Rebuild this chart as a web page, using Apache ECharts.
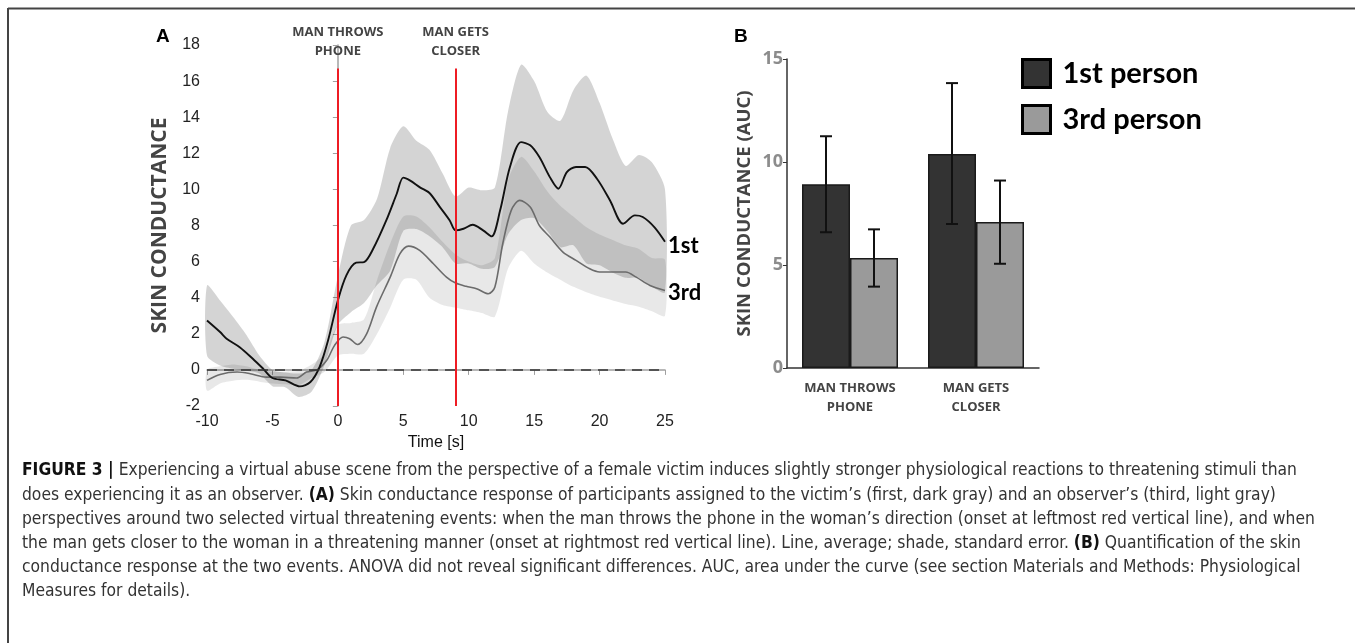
<!DOCTYPE html>
<html>
<head>
<meta charset="utf-8">
<title>Figure 3</title>
<script src="https://cdn.jsdelivr.net/npm/echarts@6/dist/echarts.min.js"></script>
<style>
  html, body { margin: 0; padding: 0; background: #fff; }
  #main { width: 1355px; height: 643px; }
</style>
</head>
<body>
<div id="main"></div>
<script>
// A: mean traces, time [s] / skin conductance
var t1st = [-10, -9, -8.5, -7.5, -6.5, -5.7, -5, -4, -2.9, -2.1, -1.4, -0.75, 0, 0.65, 1.4, 2, 2.7, 3.7, 4.5, 5, 5.5, 6.3, 7, 7.8, 8.55, 9, 9.6, 10.3, 11.1, 11.75, 12.4, 13.15, 14, 14.7, 15.4, 16.2, 16.85, 17.5, 18.2, 18.9, 19.8, 20.8, 21.8, 22.7, 23.3, 24.2, 25];
var v1st = [2.74, 2.1, 1.73, 1.26, 0.62, 0.06, -0.45, -0.58, -0.91, -0.67, 0.16, 1.63, 3.85, 5.24, 5.94, 5.97, 6.71, 8.28, 9.76, 10.65, 10.5, 10.1, 9.8, 9.02, 8.28, 7.73, 7.82, 8.04, 7.73, 7.4, 8.84, 11.24, 12.62, 12.44, 11.79, 10.68, 10.04, 10.96, 11.24, 11.24, 10.59, 9.39, 8.1, 8.56, 8.47, 7.9, 7.1];
var t3rd = [-10, -9, -7.7, -6.7, -5.45, -4.4, -3.15, -2.4, -1.6, -0.85, -0.25, 0.4, 0.9, 1.5, 2.2, 2.95, 4, 4.75, 5.4, 6.25, 7.3, 8.3, 9, 9.8, 10.6, 11.5, 12, 12.6, 13.25, 13.9, 14.7, 15.4, 16.2, 17.2, 18.2, 19.25, 20, 21.5, 22, 22.8, 23.85, 25];
var v3rd = [-0.58, -0.25, -0.12, -0.21, -0.4, -0.4, -0.45, -0.12, 0, 0.53, 1.36, 1.82, 1.73, 1.41, 2.0, 3.48, 5.14, 6.44, 6.86, 6.62, 5.88, 5.14, 4.81, 4.63, 4.5, 4.22, 4.59, 6.99, 8.84, 9.39, 9.02, 8.0, 7.36, 6.53, 6.07, 5.6, 5.42, 5.42, 5.42, 5.14, 4.68, 4.4];

// A: standard error shades, read once per second
var bandT = [-10, -9, -8, -7, -6, -5, -4, -3, -2, -1, 0, 1, 2, 3, 4, 5, 6, 7, 8, 9, 10, 11, 12, 13, 14, 15, 16, 17, 18, 19, 20, 21, 22, 23, 24, 25];
var up1st = [4.68, 3.85, 2.93, 1.95, 0.8, 0.0, -0.15, -0.2, 0.0, 1.6, 5.2, 8.0, 8.3, 9.5, 12.3, 13.5, 12.7, 12.2, 10.9, 9.6, 10.1, 9.95, 10.1, 14.3, 16.9, 16.0, 14.3, 13.8, 15.5, 16.3, 14.8, 12.8, 11.3, 11.9, 11.5, 10.0];
var lo1st = [0.8, 0.25, 0.07, -0.05, -0.2, -0.9, -0.97, -1.5, -1.2, 0.3, 2.5, 3.2, 3.7, 4.7, 5.5, 7.7, 7.8, 7.4, 6.8, 5.9, 5.9, 5.6, 5.7, 7.5, 8.3, 8.4, 7.7, 6.8, 6.9, 5.9, 5.8, 5.4, 5.1, 5.1, 4.6, 4.3];
var up3rd = [0.0, 0.2, 0.3, 0.2, 0.0, -0.1, -0.1, -0.05, 0.3, 0.9, 2.5, 2.6, 2.8, 5.0, 7.0, 8.5, 8.5, 7.9, 7.1, 6.4, 6.0, 5.8, 6.2, 10.5, 11.8, 11.0, 9.9, 9.1, 8.5, 7.9, 7.5, 7.2, 6.9, 6.7, 6.2, 6.1];
var lo3rd = [-1.15, -0.75, -0.6, -0.55, -0.65, -0.75, -0.8, -0.85, -0.45, -0.1, 0.8, 0.9, 0.9, 2.0, 3.45, 5.0, 5.0, 4.0, 3.6, 3.45, 3.3, 3.15, 2.95, 5.6, 6.6, 5.9, 5.4, 5.0, 4.6, 4.3, 4.05, 3.85, 3.65, 3.5, 3.25, 3.0];

// event onsets (red lines)
var eventT = [0, 9];
var eventNames = ['MAN THROWS\nPHONE', 'MAN GETS\nCLOSER'];
var eventTop = 16.7;

// B: AUC per event
var categories = ['MAN THROWS\nPHONE', 'MAN GETS\nCLOSER'];
var auc1st = [8.92, 10.39];
var auc3rd = [5.34, 7.09];
var err1stLo = [6.59, 6.99];
var err1stHi = [11.25, 13.83];
var err3rdLo = [3.95, 5.06];
var err3rdHi = [6.73, 9.1];

var BAR_W = 48;
var SANS = "'Open Sans', sans-serif";
var ARIAL = "'Liberation Sans', Arial, sans-serif";
var CAPT = "'Liberation Sans Narrow', 'DejaVu Sans Condensed', 'Liberation Sans', sans-serif";

function pairs(xs, ys) {
  return xs.map(function (x, i) { return [x, ys[i]]; });
}

function bandRender(upper, lower, fill) {
  return function (params, api) {
    var pts = [];
    for (var i = 0; i < bandT.length; i++) pts.push(api.coord([bandT[i], upper[i]]));
    for (var j = bandT.length - 1; j >= 0; j--) pts.push(api.coord([bandT[j], lower[j]]));
    return { type: 'polygon', shape: { points: pts, smooth: 0.25 }, style: { fill: fill } };
  };
}

var errData = [];
for (var k = 0; k < categories.length; k++) {
  errData.push([k, err1stLo[k], err1stHi[k], 0]);
  errData.push([k, err3rdLo[k], err3rdHi[k], 1]);
}

var markData = [[
  { coord: [-10, 0], lineStyle: { color: '#333', width: 1.6, type: [10, 7] }, label: { show: false } },
  { coord: [25, 0] }
]];
eventT.forEach(function (t, i) {
  markData.push([
    { coord: [t, -2], lineStyle: { color: '#ee1c24', width: 2, type: 'solid' },
      label: { show: true, position: 'end', distance: 8, formatter: eventNames[i],
        fontFamily: SANS, fontWeight: 'bold', fontSize: 13, lineHeight: 19, color: '#444' } },
    { coord: [t, eventTop] }
  ]);
});

// caption lines, kept as they wrap in the figure
var captionLines = [
  '{b|FIGURE 3 |} Experiencing a virtual abuse scene from the perspective of a female victim induces slightly stronger physiological reactions to threatening stimuli than',
  'does experiencing it as an observer. {b|(A)} Skin conductance response of participants assigned to the victim\u2019s (first, dark gray) and an observer\u2019s (third, light gray)',
  'perspectives around two selected virtual threatening events: when the man throws the phone in the woman\u2019s direction (onset at leftmost red vertical line), and when',
  'the man gets closer to the woman in a threatening manner (onset at rightmost red vertical line). Line, average; shade, standard error. {b|(B)} Quantification of the skin',
  'conductance response at the two events. ANOVA did not reveal significant differences. AUC, area under the curve (see section Materials and Methods: Physiological',
  'Measures for details).'
];

var chart = echarts.init(document.getElementById('main'));

var graphics = [
  { type: 'line', shape: { x1: 8, y1: 8.5, x2: 1355, y2: 8.5 }, style: { stroke: '#444', lineWidth: 2 } },
  { type: 'line', shape: { x1: 8, y1: 8, x2: 8, y2: 643 }, style: { stroke: '#444', lineWidth: 2 } },
  { type: 'text', style: { x: 156, y: 37, text: 'A', fontFamily: ARIAL, fontWeight: 'bold', fontSize: 19, fill: '#000', verticalAlign: 'middle' } },
  { type: 'text', style: { x: 734, y: 37, text: 'B', fontFamily: ARIAL, fontWeight: 'bold', fontSize: 19, fill: '#000', verticalAlign: 'middle' } }
];
captionLines.forEach(function (line, i) {
  graphics.push({
    type: 'text',
    style: {
      x: 22, y: 471 + i * 24.2, text: line, verticalAlign: 'middle',
      fontFamily: CAPT, fontSize: 17.3, fill: '#333',
      rich: { b: { fontFamily: CAPT, fontSize: 17.3, fontWeight: 'bold', fill: '#111' } }
    }
  });
});

var option = {
  animation: false,
  backgroundColor: '#fff',
  grid: [
    { left: 207, top: 45, width: 458, height: 361 },
    { left: 787, top: 59, width: 252, height: 309 }
  ],
  xAxis: [
    {
      gridIndex: 0, type: 'value', min: -10, max: 25, interval: 5,
      name: 'Time [s]', nameLocation: 'middle', nameGap: 28,
      nameTextStyle: { fontFamily: ARIAL, fontSize: 16, color: '#111' },
      axisLine: { lineStyle: { color: '#a0a0a0', width: 1.5 } },
      axisTick: { length: 5, lineStyle: { color: '#a0a0a0' } },
      axisLabel: { fontFamily: ARIAL, fontSize: 16, color: '#222', margin: 8 },
      splitLine: { show: false }
    },
    {
      gridIndex: 1, type: 'category', data: categories,
      axisLine: { lineStyle: { color: '#333', width: 1.5 } },
      axisTick: { alignWithLabel: true, length: 5, lineStyle: { color: '#333' } },
      axisLabel: { fontFamily: SANS, fontWeight: 'bold', fontSize: 13, lineHeight: 19, color: '#444', margin: 11 }
    }
  ],
  yAxis: [
    {
      gridIndex: 0, type: 'value', min: -2, max: 18, interval: 2,
      name: 'SKIN CONDUCTANCE', nameLocation: 'middle', nameGap: 36, nameRotate: 90,
      nameTextStyle: { fontFamily: SANS, fontWeight: 'bold', fontSize: 21, color: '#444' },
      axisLine: { show: true, lineStyle: { color: '#a0a0a0', width: 1.5 } },
      axisTick: { show: true, length: 5, lineStyle: { color: '#a0a0a0' } },
      axisLabel: { fontFamily: ARIAL, fontSize: 16, color: '#222', margin: 7 },
      splitLine: { show: false }
    },
    {
      gridIndex: 1, type: 'value', min: 0, max: 15, interval: 5,
      name: 'SKIN CONDUCTANCE (AUC)', nameLocation: 'middle', nameGap: 33, nameRotate: 90,
      nameTextStyle: { fontFamily: SANS, fontWeight: 'bold', fontSize: 18.5, color: '#444' },
      axisLine: { show: true, lineStyle: { color: '#333', width: 1.5 } },
      axisTick: { show: true, length: 4, lineStyle: { color: '#333' } },
      axisLabel: { fontFamily: SANS, fontWeight: 'bold', fontSize: 18, color: '#8c8c8c', margin: 4 },
      splitLine: { show: false }
    }
  ],
  legend: {
    orient: 'vertical', left: 1016, top: 53, icon: 'rect',
    itemWidth: 28, itemHeight: 28, itemGap: 15, selectedMode: false,
    data: [
      { name: '1st person', itemStyle: { color: '#333', borderColor: '#000', borderWidth: 3 } },
      { name: '3rd person', itemStyle: { color: '#9a9a9a', borderColor: '#000', borderWidth: 3 } }
    ],
    textStyle: { fontFamily: 'Lato', fontWeight: 'bold', fontSize: 29, lineHeight: 28, color: '#000', padding: [0, 0, 0, 7] }
  },
  graphic: graphics,
  series: [
    { type: 'custom', name: 'band1', xAxisIndex: 0, yAxisIndex: 0, z: 1, silent: true,
      renderItem: bandRender(up1st, lo1st, 'rgba(0,0,0,0.17)'), data: [[0, 0]] },
    { type: 'custom', name: 'band3', xAxisIndex: 0, yAxisIndex: 0, z: 1, silent: true,
      renderItem: bandRender(up3rd, lo3rd, 'rgba(0,0,0,0.09)'), data: [[0, 0]] },
    { type: 'line', name: '3rd', xAxisIndex: 0, yAxisIndex: 0, z: 3, smooth: 0.3, showSymbol: false, silent: true,
      lineStyle: { color: '#6b6b6b', width: 1.6 }, data: pairs(t3rd, v3rd),
      endLabel: { show: true, formatter: '3rd', distance: 3, offset: [0, 2], fontFamily: 'Lato', fontWeight: 'bold', fontSize: 22, color: '#000' },
      markLine: { silent: true, symbol: 'none', animation: false, data: markData } },
    { type: 'line', name: '1st', xAxisIndex: 0, yAxisIndex: 0, z: 4, smooth: 0.3, showSymbol: false, silent: true,
      lineStyle: { color: '#111', width: 1.9 }, data: pairs(t1st, v1st),
      endLabel: { show: true, formatter: '1st', distance: 3, offset: [0, 4], fontFamily: 'Lato', fontWeight: 'bold', fontSize: 22, color: '#000' } },
    { type: 'bar', name: '1st person', xAxisIndex: 1, yAxisIndex: 1, barWidth: BAR_W, barGap: '0%',
      itemStyle: { color: '#333', borderColor: '#1a1a1a', borderWidth: 1.5 }, data: auc1st },
    { type: 'bar', name: '3rd person', xAxisIndex: 1, yAxisIndex: 1, barWidth: BAR_W, barGap: '0%',
      itemStyle: { color: '#9a9a9a', borderColor: '#1a1a1a', borderWidth: 1.5 }, data: auc3rd },
    { type: 'custom', name: 'err', xAxisIndex: 1, yAxisIndex: 1, z: 5, silent: true,
      encode: { x: 0, y: [1, 2] }, data: errData,
      renderItem: function (params, api) {
        var hi = api.coord([api.value(0), api.value(2)]);
        var lo = api.coord([api.value(0), api.value(1)]);
        var x = hi[0] + (api.value(3) === 0 ? -1 : 1) * BAR_W / 2;
        var cap = 6;
        var st = { stroke: '#111', lineWidth: 2 };
        return { type: 'group', children: [
          { type: 'line', shape: { x1: x, y1: hi[1], x2: x, y2: lo[1] }, style: st },
          { type: 'line', shape: { x1: x - cap, y1: hi[1], x2: x + cap, y2: hi[1] }, style: st },
          { type: 'line', shape: { x1: x - cap, y1: lo[1], x2: x + cap, y2: lo[1] }, style: st }
        ] };
      } }
  ]
};

chart.setOption(option);
</script>
</body>
</html>
